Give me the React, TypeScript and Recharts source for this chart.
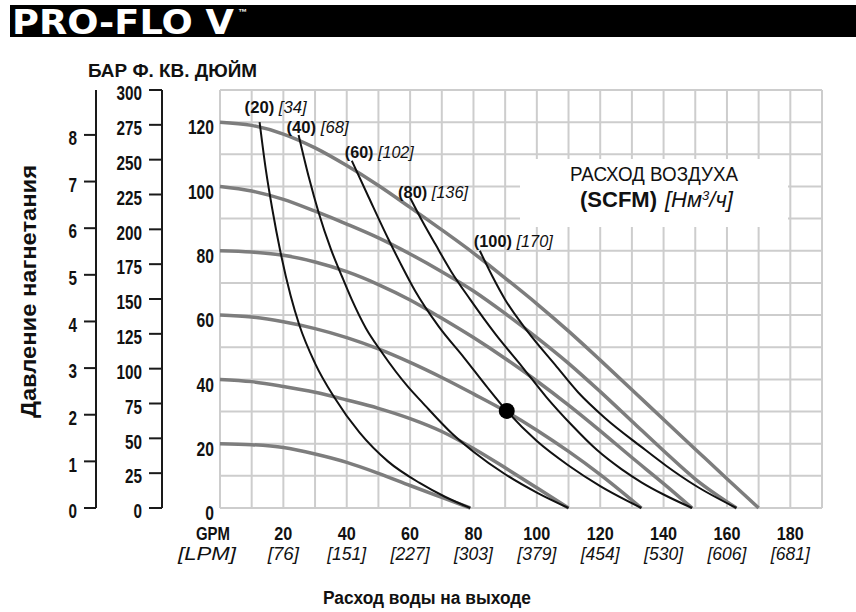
import { ComposedChart, Line, XAxis, YAxis, CartesianGrid, ReferenceDot } from 'recharts'

const SANS = "'Liberation Sans', Arial, sans-serif"

// axis ticks
const gpmTicks = [0, 10, 20, 30, 40, 50, 60, 70, 80, 90, 100, 110, 120, 130, 140, 150, 160, 170, 180, 190]
const psiTicks = [0, 10, 20, 30, 40, 50, 60, 70, 80, 90, 100, 110, 120, 130]
const ftTicks = [0, 25, 50, 75, 100, 125, 150, 175, 200, 225, 250, 275, 300]
const barTicks = [0, 1, 2, 3, 4, 5, 6, 7, 8]
const lpmLabels = ['LPM', '76', '151', '227', '303', '379', '454', '530', '606', '681']

// constant inlet air pressure curves (psig): [gpm, psi]
const psi20 = [[0, 20], [10, 19.7], [20, 18.8], [30, 16.8], [40, 14.2], [50, 10.8], [60, 7], [70, 3.3], [79, 0]]
const psi40 = [[0, 40], [10, 39.3], [20, 37.8], [30, 36], [40, 33.6], [50, 31], [60, 27.8], [70, 23.8], [80, 18.5], [90, 12.5], [100, 6.3], [110, 0]]
const psi60 = [[0, 60], [10, 59.4], [20, 57.9], [30, 55.8], [40, 53], [50, 49.5], [60, 45.3], [70, 40.6], [80, 35.5], [90, 30.2], [100, 24.2], [110, 17.6], [120, 10.4], [133, 0]]
const psi80 = [[0, 80], [10, 79.6], [20, 78.6], [30, 76.5], [40, 73.5], [50, 69.5], [60, 64.7], [70, 59], [80, 53], [90, 46.5], [100, 39.5], [110, 32], [120, 24], [130, 15.7], [140, 7.6], [149, 0]]
const psi100 = [[0, 100], [10, 98.6], [20, 96], [30, 92.3], [40, 88.3], [50, 84], [60, 79], [70, 73.5], [80, 67.5], [90, 60.5], [100, 53], [110, 45], [120, 36.2], [130, 27], [140, 17.8], [150, 9], [163, 0]]
const psi120 = [[0, 120], [10, 119], [20, 116.3], [30, 112], [40, 106.5], [50, 100.3], [60, 93.5], [70, 86.5], [80, 79.3], [90, 71.5], [100, 63.5], [110, 55], [120, 46], [130, 36.8], [140, 27.5], [150, 18.3], [160, 9.1], [170, 0]]

// air consumption curves (SCFM): [gpm, psi]
const scfm20 = [[12.5, 120], [14.5, 105], [16.5, 93], [19, 80], [22.3, 66], [25, 57], [30, 45], [36, 34.5], [44, 23.5], [53, 14.5], [63, 7.8], [71, 3.5], [79, 0]]
const scfm40 = [[24.8, 116], [28, 103], [31.1, 92], [35, 80.5], [38.5, 72], [41.6, 64.8], [46, 56], [51, 48.5], [59.5, 37.5], [63.7, 33], [73.4, 23], [80, 17.5], [90, 10.5], [100, 4.8], [110, 0]]
const scfm60 = [[41.6, 108], [47, 96.5], [53.2, 83.5], [57, 76], [61.6, 67.5], [69, 56.5], [77, 46.8], [84, 38], [90.5, 30.2], [100, 20.8], [110, 13.2], [120, 6.8], [133, 0]]
const scfm80 = [[60, 96.5], [63.7, 89.5], [68, 82], [73, 73.5], [79, 64.8], [87, 54], [95.3, 44], [103, 34.5], [111, 25.8], [119, 18], [126.8, 12], [133, 8], [140, 4.2], [149, 0]]
const scfm100 = [[82, 80], [86, 72], [90, 64.8], [97, 55], [105.8, 44.5], [113, 36], [121.5, 28], [133, 19], [141, 13], [150, 7], [163, 0]]

const scfmValues = [20, 40, 60, 80, 100]
const nm3hValues = [34, 68, 102, 136, 170]

const operatingPoint = { gpm: 90.5, psi: 30.2 }

const PSI_PER_BAR = 14.5038

// label placement next to the top end of each air curve: [dx, dy, textLength]
const airLabelPlacement = [[-15, -9, 62], [-12, -2, 62], [-7, -3, 69], [-12, 0, 70], [-6, -4, 79]]

const toRows = (pts: number[][]) => pts.map(([gpm, psi]) => ({ gpm, psi }))
const pressureCurves = [psi20, psi40, psi60, psi80, psi100, psi120].map(toRows)
const airCurves = [scfm20, scfm40, scfm60, scfm80, scfm100].map(toRows)

function GpmTick({ x, y, payload }: any) {
  const v = payload.value
  if (v % 20 !== 0 || v > 180) return <g />
  const lpm = lpmLabels[v / 20]
  const top = v === 0 ? 'GPM' : String(v)
  return (
    <g fill="#111">
      <text x={v === 0 ? x - 7 : x} y={y + 24} textAnchor="middle" fontFamily={SANS} fontWeight="bold" fontSize={19}
        textLength={v === 0 ? 34 : top.length * 9} lengthAdjust="spacingAndGlyphs">
        {top}
      </text>
      <text x={v === 0 ? x - 13 : x} y={y + 44} textAnchor="middle" fontFamily={SANS} fontStyle="italic" fontSize={18}
        textLength={v === 0 ? 58 : (lpm.length + 2) * 7.8} lengthAdjust="spacingAndGlyphs">
        [{lpm}]
      </text>
    </g>
  )
}

function PsiTick({ x, y, payload }: any) {
  if (payload.value % 20 !== 0) return <g />
  const s = String(payload.value)
  return (
    <text x={x + 2} y={y + 5} dy="0.36em" textAnchor="end" fontFamily={SANS} fontWeight="bold" fontSize={20} fill="#111"
      textLength={s.length * 8.7} lengthAdjust="spacingAndGlyphs">
      {s}
    </text>
  )
}

function SideTick({ x, y, payload }: any) {
  const s = String(payload.value)
  return (
    <text x={x} y={y + 3} dy="0.36em" textAnchor="end" fontFamily={SANS} fontWeight="bold" fontSize={20} fill="#111"
      textLength={s.length * 8.5} lengthAdjust="spacingAndGlyphs">
      {s}
    </text>
  )
}

function airLabel(i: number) {
  const [dx, dy, len] = airLabelPlacement[i]
  return (props: any) => {
    if (props.index !== 0) return <g />
    return (
      <text x={props.x + dx} y={props.y + dy} fontFamily={SANS} fontSize={16} fill="#111"
        textLength={len} lengthAdjust="spacingAndGlyphs">
        <tspan fontWeight="bold">({scfmValues[i]})</tspan>
        <tspan fontStyle="italic"> [{nm3hValues[i]}]</tspan>
      </text>
    )
  }
}

export default function App() {
  return (
    <div style={{ position: 'absolute', left: 0, top: 0, width: 856, height: 612, background: '#fff' }}>
      <ComposedChart width={856} height={612} margin={{ top: 90, right: 34, bottom: 4, left: 30 }}>
        <CartesianGrid stroke="#cdcdcd" strokeWidth={2} />
        <XAxis
          type="number"
          dataKey="gpm"
          domain={[0, 190]}
          ticks={gpmTicks}
          interval={0}
          height={100}
          axisLine={false}
          tickLine={false}
          tick={GpmTick}
        />
        <YAxis
          type="number"
          domain={[0, 130]}
          ticks={psiTicks}
          interval={0}
          width={58}
          axisLine={false}
          tickLine={false}
          tick={PsiTick}
        />
        <YAxis
          yAxisId="b_bar"
          type="number"
          domain={[0, 130 / PSI_PER_BAR]}
          allowDataOverflow
          ticks={barTicks}
          interval={0}
          width={66}
          tickSize={12}
          tickMargin={7}
          axisLine={{ stroke: '#1a1a1a', strokeWidth: 2 }}
          tickLine={{ stroke: '#1a1a1a', strokeWidth: 2 }}
          tick={SideTick}
        />
        <YAxis
          yAxisId="a_ft"
          type="number"
          domain={[0, 300]}
          allowDataOverflow
          ticks={ftTicks}
          interval={0}
          width={66}
          tickSize={13}
          tickMargin={7}
          axisLine={{ stroke: '#1a1a1a', strokeWidth: 2 }}
          tickLine={{ stroke: '#1a1a1a', strokeWidth: 2 }}
          tick={SideTick}
        />
        {pressureCurves.map((rows, i) => (
          <Line
            key={`p${i}`}
            data={rows}
            dataKey="psi"
            type="monotone"
            stroke="#7d7d7d"
            strokeWidth={3.5}
            dot={false}
            activeDot={false}
            isAnimationActive={false}
          />
        ))}
        {airCurves.map((rows, i) => (
          <Line
            key={`a${i}`}
            data={rows}
            dataKey="psi"
            type="monotone"
            stroke="#111"
            strokeWidth={2}
            dot={false}
            activeDot={false}
            label={airLabel(i)}
            isAnimationActive={false}
          />
        ))}
        <ReferenceDot x={operatingPoint.gpm} y={operatingPoint.psi} r={8} fill="#000" stroke="none" />
      </ComposedChart>

      <svg width={856} height={612} style={{ position: 'absolute', left: 0, top: 0, pointerEvents: 'none' }}>
        <rect x={10} y={5} width={846} height={32} fill="#000" />
        <text x={12} y={34} fill="#fff" fontFamily="'DejaVu Sans', sans-serif" fontWeight="bold" fontSize={33} textLength={222} lengthAdjust="spacingAndGlyphs">
          PRO-FLO V
        </text>
        <text x={238} y={15} fill="#fff" fontFamily={SANS} fontWeight="bold" fontSize={9}>™</text>

        <text x={88} y={77} fill="#111" fontFamily={SANS} fontWeight="bold" fontSize={19} textLength={169} lengthAdjust="spacingAndGlyphs">
          БАР Ф. КВ. ДЮЙМ
        </text>

        <text
          x={36}
          y={291.5}
          transform="rotate(-90 36 291.5)"
          textAnchor="middle"
          fill="#111"
          fontFamily={SANS}
          fontWeight="bold"
          fontSize={22}
          textLength={253}
          lengthAdjust="spacingAndGlyphs"
        >
          Давление нагнетания
        </text>

        <text x={427} y={604} textAnchor="middle" fill="#111" fontFamily={SANS} fontWeight="bold" fontSize={18} textLength={208} lengthAdjust="spacingAndGlyphs">
          Расход воды на выходе
        </text>

        <rect x={520} y={159} width={268} height={68} fill="#fff" />
        <text x={570} y={181} fill="#111" fontFamily={SANS} fontSize={20} textLength={168} lengthAdjust="spacingAndGlyphs">
          РАСХОД ВОЗДУХА
        </text>
        <text x={580} y={207} fill="#111" fontFamily={SANS} fontSize={22}>
          <tspan fontWeight="bold">(SCFM)</tspan>
          <tspan fontStyle="italic" dx={8}>[Нм</tspan>
          <tspan fontStyle="italic" fontSize={13} dy={-7}>3</tspan>
          <tspan fontStyle="italic" dy={7}>/ч]</tspan>
        </text>
      </svg>
    </div>
  )
}
